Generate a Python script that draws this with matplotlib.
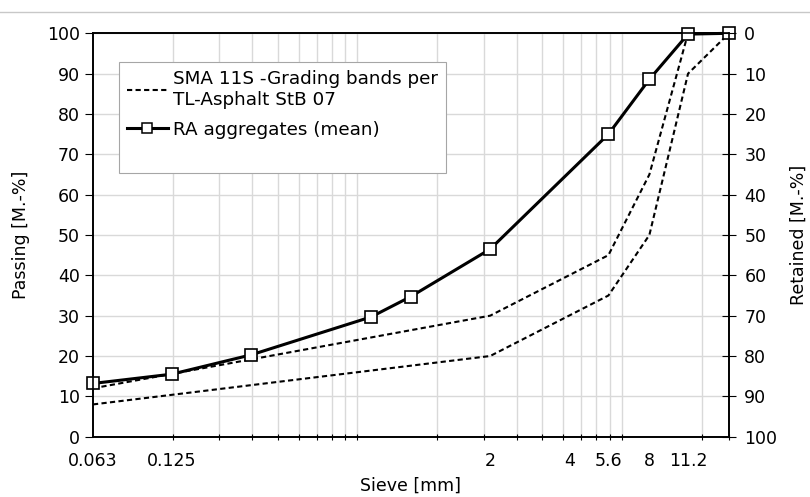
import matplotlib
matplotlib.use("Agg")
import matplotlib.pyplot as plt
from matplotlib.ticker import FixedLocator, NullFormatter
from matplotlib.lines import Line2D
import numpy as np

plt.rcParams['font.family'] = ['DejaVu Sans']

# sieve sizes [mm]
sieves_ra = [0.063, 0.125, 0.25, 0.71, 1, 2, 5.6, 8, 11.2, 16]
passing_ra = [13.2, 15.5, 20.3, 29.7, 34.7, 46.5, 75.0, 88.6, 99.8, 100]

sieves_band = [0.063, 2, 5.6, 8, 11.2, 16]
band_lower = [8, 20, 35, 50, 90, 100]
band_upper = [12, 30, 45, 65, 100, 100]

tick_vals = [0.063, 0.125, 2, 4, 5.6, 8, 11.2]
tick_labels = ["0.063", "0.125", "2", "4", "5.6", "8", "11.2"]

fig = plt.figure(figsize=(8.1, 4.97), dpi=100)
ax = fig.add_axes([93/810, 1-436.7/497, 636/810, 403.4/497])

# grid lines of the log axis (Excel style, base 0.063)
grid_x = [0.063*10**k*n for k in range(3) for n in range(1, 10)] + [16]
grid_x = [g for g in grid_x if g <= 16]

dash = (0, (2.5, 1.6))
ax.plot(sieves_band, band_lower, color='black', lw=1.5, ls=dash, zorder=3)
ax.plot(sieves_band, band_upper, color='black', lw=1.5, ls=dash, zorder=3)
ax.plot(sieves_ra, passing_ra, color='black', lw=2.2, marker='s', markersize=8,
        markerfacecolor='white', markeredgecolor='black', markeredgewidth=1.2, zorder=4,
        clip_on=False)

ax.set_xscale('log')
ax.set_xlim(0.063, 16)
ax.set_ylim(0, 100)
ax.set_yticks(np.arange(0, 101, 10))

ax.xaxis.set_major_locator(FixedLocator(tick_vals))
ax.set_xticklabels(tick_labels)
ax.xaxis.set_minor_locator(FixedLocator(grid_x))
ax.xaxis.set_minor_formatter(NullFormatter())
ax.tick_params(axis='x', which='major', length=0, labelsize=12.5, pad=11)
ax.tick_params(axis='x', which='minor', length=5, direction='inout', width=0.8)
ax.tick_params(axis='y', length=6, direction='out', labelsize=12.5, width=0.8)

ax.grid(which='minor', axis='x', color='#d9d9d9', lw=1)
ax.grid(which='major', axis='y', color='#d9d9d9', lw=1)
ax.set_axisbelow(True)
for s in ax.spines.values():
    s.set_linewidth(1.2)

ax.set_xlabel("Sieve [mm]", fontsize=12.5, labelpad=5)
ax.set_ylabel("Passing [M.-%]", fontsize=12.5, labelpad=12)

ax2 = ax.twinx()
ax2.set_ylim(100, 0)
ax2.set_yticks(np.arange(0, 101, 10))
ax2.tick_params(axis='y', length=10, direction='inout', labelsize=12.5, width=0.8, pad=6)
ax2.set_ylabel("Retained [M.-%]", fontsize=12.5, labelpad=9)
for s in ax2.spines.values():
    s.set_linewidth(1.2)

handles = [Line2D([], [], color='black', lw=1.5, ls=dash),
           Line2D([], [], color='black', lw=2.2, marker='s', markersize=6.5,
                  markerfacecolor='white', markeredgecolor='black', markeredgewidth=1.1),
           Line2D([], [], color='none')]
leg = ax.legend(handles, ["SMA 11S -Grading bands per\nTL-Asphalt StB 07", "RA aggregates (mean)", " "],
                loc='upper left', bbox_to_anchor=(0.041, 0.929), borderaxespad=0,
                fontsize=13.2, handlelength=2.2, handletextpad=0.3, fancybox=False,
                framealpha=1, edgecolor='#a6a6a6', borderpad=0.45, labelspacing=0.65)
leg.get_frame().set_linewidth(0.8)
leg.get_texts()[2].set_fontsize(4)
leg.set_zorder(5)

fig.add_artist(Line2D([0, 1], [1-11.7/497, 1-11.7/497], color='#c8c8c8', lw=1))

fig.savefig("out.png", dpi=100)
